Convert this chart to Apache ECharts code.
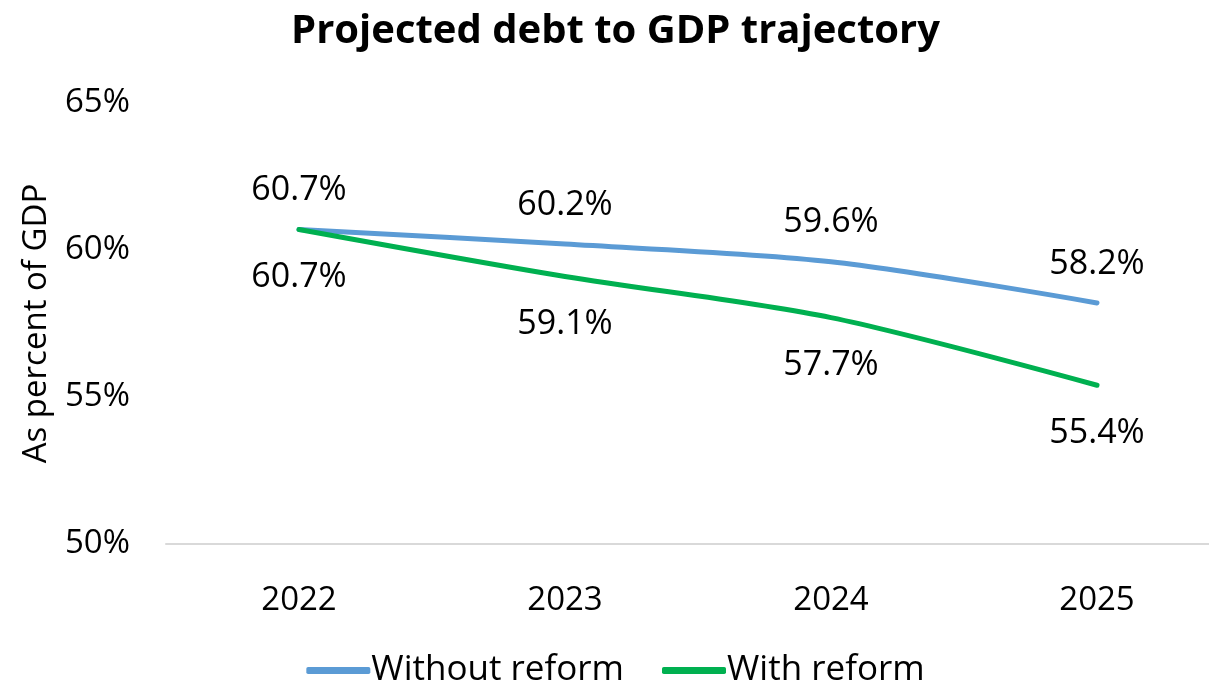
<!DOCTYPE html>
<html><head><meta charset="utf-8">
<script src="https://cdn.jsdelivr.net/npm/echarts@6/dist/echarts.min.js"></script>
<style>html,body{margin:0;padding:0;background:#fff;overflow:hidden}#c{width:1231px;height:683px}</style>
</head><body><div id="c"></div>
<script>
const categories = ['2022','2023','2024','2025'];
const withoutReform = [60.7, 60.2, 59.6, 58.2];
const withReform = [60.7, 59.1, 57.7, 55.4];
const seriesNames = ['Without reform','With reform'];
const FONT = 'Open Sans';
const chart = echarts.init(document.getElementById('c'), null, {renderer:'canvas'});
const lbl = (pos, d) => ({show:true, position:pos, distance:d, fontFamily:FONT, fontSize:34, color:'#000',
  formatter: p => p.value.toFixed(1) + '%'});
chart.setOption({
  animation:false,
  title:{text:'Projected debt to GDP trajectory', left:'center', top:7,
    textStyle:{fontFamily:FONT, fontWeight:'bold', fontSize:40, color:'#000'}},
  grid:{left:166, top:103, right:1, height:441, containLabel:false},
  legend:{bottom:-10, itemWidth:64, itemHeight:7, itemGap:38, icon:'roundRect',
    textStyle:{fontFamily:FONT, fontSize:35, color:'#000', padding:[0,0,0,-4]}, data:seriesNames},
  xAxis:{type:'category', data:categories, boundaryGap:true,
    axisLine:{lineStyle:{color:'#d9d9d9', width:2}}, axisTick:{show:false},
    axisLabel:{fontFamily:FONT, fontSize:33, color:'#000', margin:40}},
  yAxis:{type:'value', min:50, max:65, interval:5,
    name:'As percent of GDP', nameLocation:'middle', nameGap:113,
    nameTextStyle:{fontFamily:FONT, fontSize:33, color:'#000'},
    splitLine:{show:false}, axisLine:{show:false}, axisTick:{show:false},
    axisLabel:{fontFamily:FONT, fontSize:33, color:'#000', margin:36, formatter: v => v + '%'}},
  series:[
    {name:seriesNames[0], type:'line', data:withoutReform, smooth:0.3, symbol:'circle', symbolSize:0, showSymbol:true,
      lineStyle:{color:'#5b9bd5', width:5, cap:'round'}, itemStyle:{color:'#5b9bd5'}, label:lbl('top', 22)},
    {name:seriesNames[1], type:'line', data:withReform, smooth:0.3, symbol:'circle', symbolSize:0, showSymbol:true,
      lineStyle:{color:'#00b050', width:5, cap:'round'}, itemStyle:{color:'#00b050'}, label:lbl('bottom', 31)}
  ]
});
</script></body></html>
